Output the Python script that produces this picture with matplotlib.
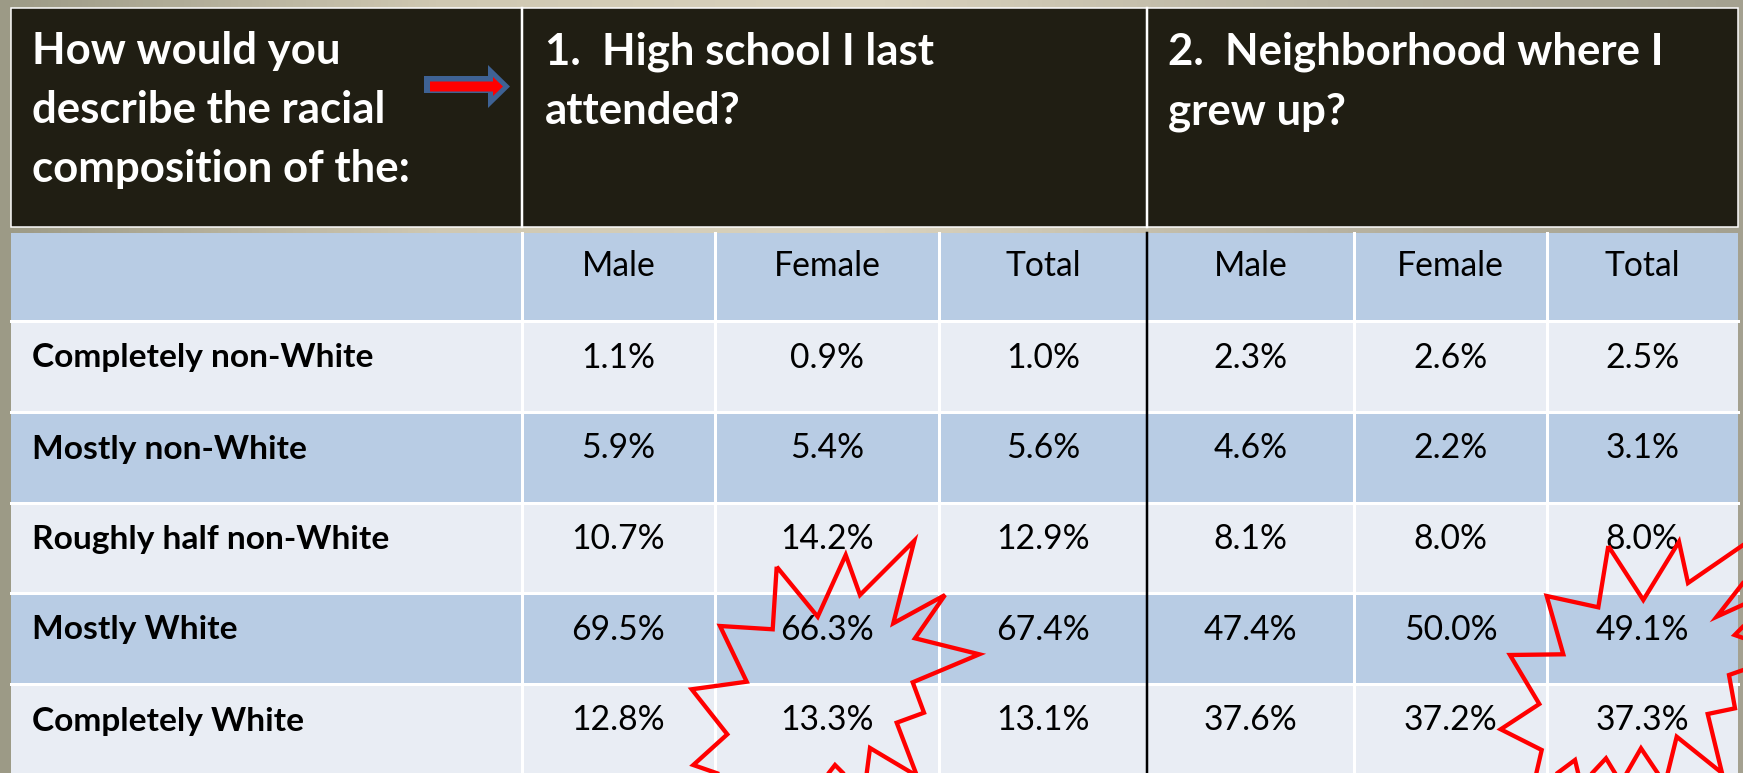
import matplotlib
matplotlib.use('Agg')
import matplotlib.pyplot as plt
from matplotlib.patches import Rectangle, Polygon
from matplotlib.colors import LinearSegmentedColormap
import numpy as np

# ---------------- data ----------------
categories = ["Completely non-White", "Mostly non-White", "Roughly half non-White",
              "Mostly White", "Completely White"]
sub_labels = ["Male", "Female", "Total"]
hs_male = [1.1, 5.9, 10.7, 69.5, 12.8]
hs_female = [0.9, 5.4, 14.2, 66.3, 13.3]
hs_total = [1.0, 5.6, 12.9, 67.4, 13.1]
nb_male = [2.3, 4.6, 8.1, 47.4, 37.6]
nb_female = [2.6, 2.2, 8.0, 50.0, 37.2]
nb_total = [2.5, 3.1, 8.0, 49.1, 37.3]
question = "How would you\ndescribe the racial\ncomposition of the:"
group_titles = ["1.  High school I last\nattended?", "2.  Neighborhood where I\ngrew up?"]

# ---------------- layout (pixels) ----------------
W, H = 1743, 773
col_edges = [11.5, 522, 715, 939, 1147, 1354, 1547, 1738]
header_top, header_bot = 8, 227
row_edges = [233, 321, 412, 503, 593, 684, 775]
HEADER_BG = '#201E13'
BLUE = '#B8CCE4'
LIGHT = '#E9EDF4'
PX = 72 / 100.0  # points per pixel

fig = plt.figure(figsize=(W / 100, H / 100), dpi=100)
ax = fig.add_axes([0, 0, 1, 1])
ax.set_xlim(0, W)
ax.set_ylim(H, 0)
ax.axis('off')

# background gradient
cmap = LinearSegmentedColormap.from_list('bg', ['#9C9A86', '#CFC8B2', '#DAD3BE', '#B9B4A2', '#A4A190'])
grad = np.linspace(0, 1, 256)[None, :]
ax.imshow(grad, cmap=cmap, extent=(0, W, H, 0), aspect='auto', zorder=0)

# font calibration (Calibri substitute)
rend = fig.canvas.get_renderer()
def fit(txt, weight, target):
    t = fig.text(0, 0, txt, fontsize=20, family='Lato', fontweight=weight)
    w = t.get_window_extent(renderer=rend).width
    t.remove()
    return 20 * target / w

fs_head = fit("How would you", 'bold', 308)
fs_label = fit("Mostly White", 'bold', 205)
fs_body = fit("Female", 'normal', 107)

# header block
ax.add_patch(Rectangle((col_edges[0], header_top), col_edges[-1] - col_edges[0],
                       header_bot - header_top, facecolor=HEADER_BG,
                       edgecolor='white', lw=1.5 * PX, zorder=1))
for xd in (col_edges[1], col_edges[4]):
    ax.plot([xd, xd], [header_top, header_bot], color='white', lw=2.5 * PX, zorder=2)

# question text
for i, line in enumerate(question.split('\n')):
    ax.text(32, 64 + i * 59, line, color='white', fontsize=fs_head, family='Lato',
            fontweight='bold', va='baseline', ha='left', zorder=3)
for gx, title in zip((545, 1168), group_titles):
    for i, line in enumerate(title.split('\n')):
        ax.text(gx, 64 + i * 60, line, color='white', fontsize=fs_head, family='Lato',
                fontweight='bold', va='baseline', ha='left', zorder=3)

# arrow
ax.add_patch(Polygon([(424, 76), (488, 76), (488, 65), (510, 86.5), (488, 108),
                      (488, 93), (424, 93)], closed=True, facecolor='#3E6294',
                     edgecolor='none', zorder=3))
ax.add_patch(Polygon([(430, 81.5), (493, 81.5), (493, 77), (503, 86.5), (493, 96),
                      (493, 91.5), (430, 91.5)], closed=True, facecolor='#FF0000',
                     edgecolor='none', zorder=4))

# body cells
for r in range(len(row_edges) - 1):
    y0, y1 = row_edges[r], row_edges[r + 1]
    color = BLUE if r % 2 == 0 else LIGHT
    ax.add_patch(Rectangle((col_edges[0], y0), col_edges[-1] - col_edges[0], y1 - y0,
                           facecolor=color, edgecolor='none', zorder=1))
for y in row_edges[1:-1]:
    ax.plot([col_edges[0], col_edges[-1]], [y, y], color='white', lw=3 * PX, zorder=2)
for x in col_edges[1:-1]:
    if x == col_edges[4]:
        continue
    ax.plot([x, x], [row_edges[0], H], color='white', lw=3 * PX, zorder=2)
ax.plot([col_edges[4], col_edges[4]], [row_edges[0], H], color='black', lw=2.5 * PX, zorder=2)

# subheader labels
centers = [(col_edges[i] + col_edges[i + 1]) / 2 for i in range(len(col_edges) - 1)]
for j in range(6):
    ax.text(centers[j + 1], 276, sub_labels[j % 3], fontsize=fs_body, family='Lato',
            ha='center', va='baseline', color='black', zorder=3)

# rows
series = [hs_male, hs_female, hs_total, nb_male, nb_female, nb_total]
for i, cat in enumerate(categories):
    y0, y1 = row_edges[i + 1], row_edges[i + 2]
    yb = (y0 + y1) / 2 + 1
    ax.text(32, yb, cat, fontsize=fs_label, family='Lato', fontweight='bold',
            ha='left', va='baseline', color='black', zorder=3)
    for j, s in enumerate(series):
        ax.text(centers[j + 1], yb, f"{s[i]:.1f}%", fontsize=fs_body, family='Lato',
                ha='center', va='baseline', color='black', zorder=3)

# starburst call-outs
burst1 = [(776.7, 566.7), (817.7, 616.7), (845.7, 555.0), (860.0, 595.0), (914.3, 540.7),
          (893.3, 623.3), (945.0, 595.0), (915.0, 638.3), (979.3, 654.3), (912.7, 682.3),
          (924.0, 712.7), (896.7, 722.7), (917.0, 776.0), (870.0, 748.0), (864.0, 794.0),
          (835.0, 765.0), (800.0, 810.0), (765.0, 790.0), (693.3, 765.0), (727.3, 734.3),
          (691.7, 689.3), (746.7, 681.7), (720.0, 626.0), (772.7, 629.3)]
burst2 = [(1608.3, 546.0), (1643.3, 600.0), (1679.0, 541.7), (1688.0, 583.0), (1807.0, 501.0),
          (1716.7, 616.7), (1782.0, 587.0), (1734.7, 635.0), (1789.0, 654.0), (1729.0, 675.0),
          (1735.0, 708.3), (1707.7, 714.0), (1722.0, 773.0), (1676.7, 736.7), (1665.0, 784.0),
          (1641.0, 748.3), (1621.0, 783.0), (1606.0, 758.3), (1581.0, 785.0), (1575.0, 760.0),
          (1532.0, 792.0), (1541.7, 750.0), (1500.7, 729.3), (1539.3, 704.0), (1510.0, 655.0),
          (1563.3, 654.3), (1546.7, 596.0), (1598.3, 607.3)]
for b in (burst1, burst2):
    ax.add_patch(Polygon(b, closed=True, fill=False, edgecolor='#FF0000', lw=4.3 * PX,
                         joinstyle='miter', zorder=5))

fig.savefig('out.png', dpi=100)
